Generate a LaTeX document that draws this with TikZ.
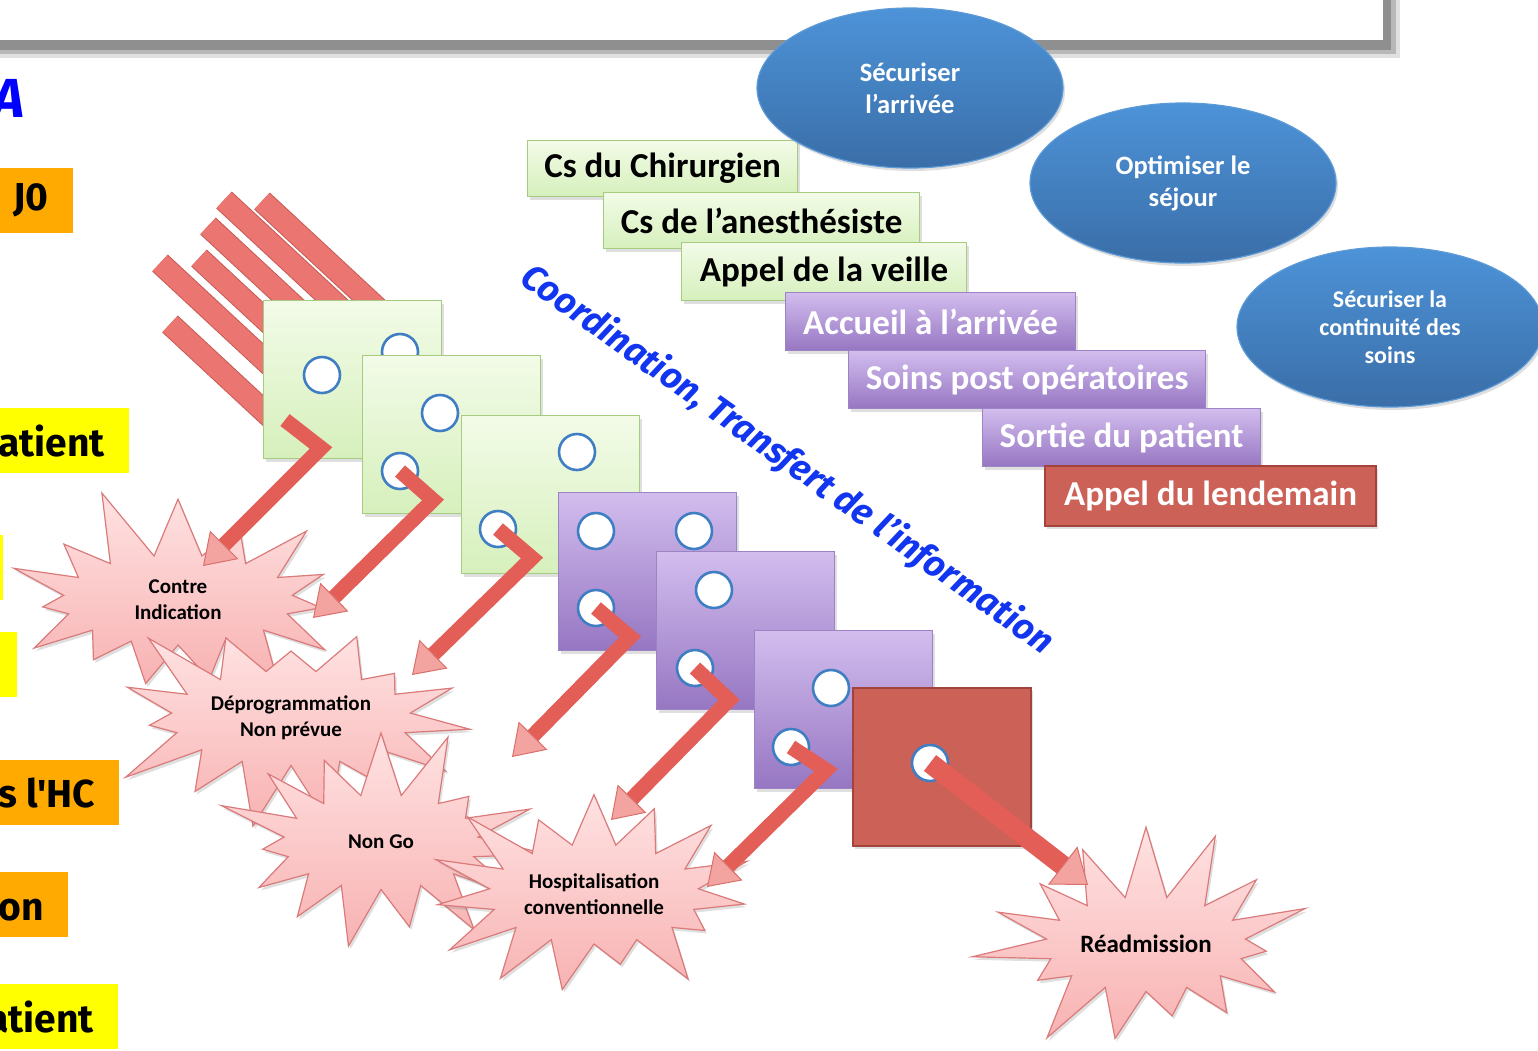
\documentclass[tikz,border=0pt]{standalone}
\usepackage{fontspec}
\setmainfont{Carlito}
\newfontfamily\comic{Fira Sans}
\usetikzlibrary{shapes.symbols,shapes.geometric,arrows.meta,shadows}
\definecolor{orL}{HTML}{FFAA00}
\definecolor{yeL}{HTML}{FFFF00}
\definecolor{pblue}{HTML}{0000FF}
\definecolor{cblue}{HTML}{1236F0}
\definecolor{barF}{HTML}{EB7570}
\definecolor{barD}{HTML}{C85A55}
\definecolor{grT}{HTML}{F3FBE8}
\definecolor{grB}{HTML}{D6F0BC}
\definecolor{grD}{HTML}{A6CC82}
\definecolor{puT}{HTML}{D2BDEE}
\definecolor{puB}{HTML}{9676C2}
\definecolor{puD}{HTML}{9C84C4}
\definecolor{rdF}{HTML}{CC6158}
\definecolor{rdD}{HTML}{A2443D}
\definecolor{dotB}{HTML}{3F7EC2}
\definecolor{arrR}{HTML}{E25E57}
\definecolor{arrP}{HTML}{F3A3A0}
\definecolor{arrD}{HTML}{D9706B}
\definecolor{buT}{HTML}{FFE2E2}
\definecolor{buB}{HTML}{F8B2B2}
\definecolor{buD}{HTML}{DA7A7A}
\definecolor{elT}{HTML}{4D93D8}
\definecolor{elB}{HTML}{3A6EA8}
\definecolor{elD}{HTML}{5C9AD8}
\begin{document}
\begin{tikzpicture}[x=1pt,y=-1pt,
  shd/.style={drop shadow={opacity=0.25,shadow xshift=2pt,shadow yshift=-3pt}},
  sqbase/.style={rectangle, anchor=north west, inner sep=0pt, minimum width=178pt, minimum height=158pt, line width=1.2pt, shd},
  sqg/.style={sqbase, draw=grD, top color=grT, bottom color=grB},
  sqp/.style={sqbase, draw=puD, top color=puT, bottom color=puB},
  sqr/.style={sqbase, draw=rdD, fill=rdF, line width=2pt},
  dot/.style={circle, fill=white, draw=dotB, line width=2.6pt, minimum size=36pt, inner sep=0pt},
  arr/.style={draw=arrR, line width=15pt, line join=miter, line cap=butt, -{Triangle[width=40pt,length=30pt,line width=1pt,color=arrD,fill=arrP]}},
  bar/.style={draw=barF, line width=21pt, line cap=butt},
  bard/.style={draw=barD, line width=23pt, line cap=butt},
  stepbase/.style={rectangle, anchor=north west, inner sep=0pt, line width=1.2pt, font=\bfseries\fontsize{35}{38}\selectfont, shd},
  stepg/.style={stepbase, draw=grD, top color=grT, bottom color=grB},
  stepp/.style={stepbase, draw=puD, top color=puT, bottom color=puB, text=white},
  stepr/.style={stepbase, draw=rdD, fill=rdF, line width=2pt, text=white},
  ell/.style={ellipse, draw=elD, line width=1.2pt, top color=elT, bottom color=elB, text=white, align=center, inner sep=0pt, minimum width=306pt, minimum height=160pt, font=\bfseries\fontsize{26.5}{32}\selectfont, shd},
  burst/.style={starburst, starburst points=15, starburst point height=75pt, draw=buD, line width=1.2pt, top color=buT, bottom color=buB, align=center, font=\bfseries\fontsize{21}{26}\selectfont, inner sep=0pt, shd},
  lbl/.style={anchor=north east, inner xsep=24pt, inner ysep=0pt, minimum height=65pt, font=\comic\bfseries\fontsize{39}{40}\selectfont}
]
\useasboundingbox (0,0) rectangle (1538,1050);
% top frame
\fill[black!12] (-20,-20) rectangle (1400,58);
\fill[black!28] (-20,-20) rectangle (1396,54);
\fill[black!44] (-20,-20) rectangle (1391,50);
\fill[white] (-20,-20) rectangle (1383,40);
% left labels
\node[anchor=base east, inner sep=0pt, text=pblue, font=\comic\bfseries\itshape\fontsize{55}{56}\selectfont] (bigA) at (25,117) {A};
\node[lbl, fill=orL] (l1) at (73,168) {J0};
\node[lbl, fill=yeL] (l2) at (129,408) {atient};
\node[lbl, fill=yeL, minimum width=40pt] (l3) at (3,535) {};
\node[lbl, fill=yeL, minimum width=40pt] (l4) at (17,632) {};
\node[lbl, fill=orL] (l5) at (119,760) {s l'HC};
\node[lbl, fill=orL] (l6) at (68,872) {ion};
\node[lbl, fill=yeL] (l7) at (118,984) {atient};
% red bars
\foreach \sx/\sy/\L in {224/200/170, 262/201/170, 208/226/170, 199/258/150, 160/263/170, 170/324/150}{
  \draw[bard] (\sx,\sy) -- ++(0.733*\L,0.681*\L);
  \draw[bar] (\sx,\sy) -- ++(0.733*\L,0.681*\L);
}
% starbursts
\node[burst, random starburst=11, minimum width=380pt, minimum height=240pt] (ci) at (178,600) {Contre\\Indication};
\node[burst, random starburst=23, minimum width=390pt, minimum height=245pt] (dp) at (291,718) {Déprogrammation\\Non prévue};
\node[burst, random starburst=37, minimum width=345pt, minimum height=245pt] (ng) at (381,842) {Non Go};
\node[burst, random starburst=41, minimum width=360pt, minimum height=250pt] (hc) at (594,894) {Hospitalisation\\conventionnelle};
\node[burst, random starburst=53, minimum width=350pt, minimum height=245pt, font=\bfseries\fontsize{25}{28}\selectfont] (ra) at (1146,944) {Réadmission};
% arrow targets and bends
\coordinate (t1) at (203,566);
\coordinate (t2) at (313,618);
\coordinate (t3) at (412,675);
\coordinate (t4) at (512,757);
\coordinate (t5) at (611,820);
\coordinate (t6) at (707,887);
\coordinate (t7) at (1088,885);
% squares
\node[sqg] (g1) at (263,300) {};
\node[dot] (g1a) at (322,375) {};
\node[dot] (g1b) at (400,352) {};
\coordinate (s1) at (285,420);
\coordinate (k1) at (321,448);
\draw[arr] (s1) -- (k1) -- (t1);
\node[sqg] (g2) at (362,355) {};
\node[dot] (g2a) at (440,413) {};
\node[dot] (g2b) at (400,471) {};
\coordinate (k2) at (433,500);
\draw[arr] (g2b.center) -- (k2) -- (t2);
\node[sqg] (g3) at (461,415) {};
\node[dot] (g3a) at (577,452) {};
\node[dot] (g3b) at (498,529) {};
\coordinate (k3) at (532,558);
\draw[arr] (g3b.center) -- (k3) -- (t3);
\node[sqp] (p1) at (558,492) {};
\node[dot] (p1a) at (596,531) {};
\node[dot] (p1b) at (694,531) {};
\node[dot] (p1c) at (596,608) {};
\coordinate (k4) at (630,637);
\draw[arr] (p1c.center) -- (k4) -- (t4);
\node[sqp] (p2) at (656,551) {};
\node[dot] (p2a) at (714,590) {};
\node[dot] (p2b) at (695,668) {};
\coordinate (k5) at (729,700);
\draw[arr] (p2b.center) -- (k5) -- (t5);
\node[sqp] (p3) at (754,630) {};
\node[dot] (p3a) at (831,688) {};
\node[dot] (p3b) at (791,747) {};
\coordinate (k6) at (826,770);
\draw[arr] (p3b.center) -- (k6) -- (t6);
\node[sqr] (rq) at (852,687) {};
\node[dot] (rqa) at (930,763) {};
\draw[arr, line width=20pt, -{Triangle[width=48pt,length=32pt,line width=1pt,color=arrD,fill=arrP]}] (rqa.center) -- (t7);
% step labels
\node[stepg, minimum width=270pt, minimum height=56pt] (e1) at (527,140) {Cs du Chirurgien};
\node[stepg, minimum width=316pt, minimum height=56pt] (e2) at (603,192) {Cs de l’anesthésiste};
\node[stepg, minimum width=285pt, minimum height=58pt] (e3) at (681,242) {Appel de la veille};
\node[stepp, minimum width=290pt, minimum height=58pt] (e4) at (785,292) {Accueil à l’arrivée};
\node[stepp, minimum width=357pt, minimum height=58pt] (e5) at (848,350) {Soins post opératoires};
\node[stepp, minimum width=278pt, minimum height=58pt] (e6) at (982,408) {Sortie du patient};
\node[stepr, minimum width=331pt, minimum height=60pt] (e7) at (1044,465) {Appel du lendemain};
% ellipses
\node[ell] (o1) at (910,88) {Sécuriser\\l’arrivée};
\node[ell] (o2) at (1183,183) {Optimiser le\\séjour};
\node[ell, font=\bfseries\fontsize{24}{28}\selectfont] (o3) at (1390,327) {Sécuriser la\\continuité des\\soins};
% diagonal text
\node[rotate=-35.4, text=cblue, inner sep=0pt, font=\comic\bfseries\itshape\fontsize{36}{38}\selectfont] (coord) at (787,460) {Coordination, Transfert de l’information};
\end{tikzpicture}
\end{document}
